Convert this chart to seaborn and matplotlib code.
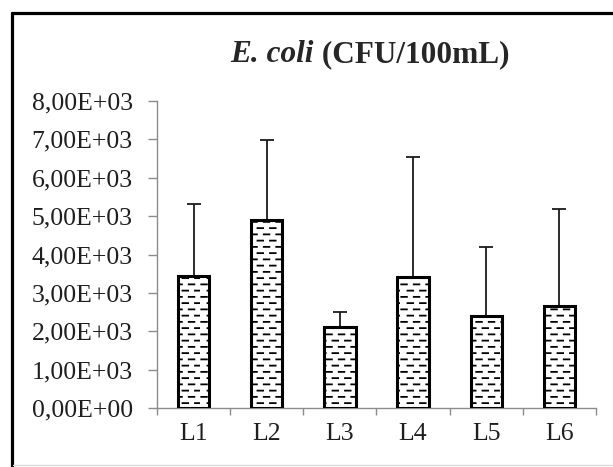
"""E. coli counts (CFU/100mL) per sampling site, Excel-style bar chart."""

import warnings

import matplotlib
matplotlib.use("Agg")
import matplotlib.pyplot as plt
import numpy as np
import pandas as pd
import seaborn as sns
from matplotlib import hatch as mhatch
from matplotlib.lines import Line2D
from matplotlib.offsetbox import AnchoredOffsetbox, HPacker, TextArea
from matplotlib.path import Path
from matplotlib.ticker import FixedLocator, FuncFormatter

warnings.filterwarnings("ignore")

# Data
SITES = ["L1", "L2", "L3", "L4", "L5", "L6"]
MEAN_CFU = [3450, 4900, 2100, 3410, 2400, 2660]
SD_CFU = [1860, 2080, 410, 3120, 1790, 2520]
Y_TICKS = [0, 1000, 2000, 3000, 4000, 5000, 6000, 7000, 8000]

SERIF = "Liberation Serif"
GREY = "#8c8c8c"


class DashHatch(mhatch.HatchPatternBase):
    """Staggered short horizontal dashes ('_' hatch), like Excel's dashed fill."""

    def __init__(self, hatch, density):
        n = hatch.count("_")
        self.num_rows = 16 * n
        self.num_cols = 8
        self.num_vertices = self.num_rows * self.num_cols * 2

    def set_vertices_and_codes(self, vertices, codes):
        k = 0
        dash = 0.45 / self.num_cols
        for i in range(self.num_rows):
            y = (i + 0.5) / self.num_rows
            off = 0.5 if i % 2 else 0.0
            for j in range(self.num_cols):
                x0 = (j + off + 0.1) / self.num_cols
                vertices[k] = (x0, y)
                vertices[k + 1] = (x0 + dash, y)
                codes[k] = Path.MOVETO
                codes[k + 1] = Path.LINETO
                k += 2


mhatch._hatch_types.append(DashHatch)

sns.set_theme(style="white")
plt.rcParams["font.family"] = [SERIF, "DejaVu Serif"]
plt.rcParams["hatch.linewidth"] = 1.3

df = pd.DataFrame({"site": SITES, "cfu": MEAN_CFU})

fig = plt.figure(figsize=(6.13, 4.67), dpi=100)
ax = fig.add_axes([157 / 613, 59 / 467, 439 / 613, 307 / 467])

sns.barplot(
    data=df, x="site", y="cfu", color="white", saturation=1,
    edgecolor="black", linewidth=2.2, width=0.43, errorbar=None, ax=ax,
)
for bar in ax.patches:
    bar.set_hatch("_")
    bar.set_zorder(3)

ax.errorbar(
    np.arange(len(SITES)), MEAN_CFU, yerr=[np.zeros(len(SITES)), SD_CFU],
    fmt="none", ecolor="#1a1a1a", elinewidth=1.3, capsize=5, capthick=1.3,
    zorder=2,
)

ax.set_xlim(-0.5, len(SITES) - 0.5)
ax.set_ylim(0, 8000)
ax.yaxis.set_major_locator(FixedLocator(Y_TICKS))
ax.yaxis.set_major_formatter(
    FuncFormatter(lambda v, _: f"{v:.2E}".replace(".", ","))
)
ax.set_xlabel("")
ax.set_ylabel("")

for side in ("top", "right"):
    ax.spines[side].set_visible(False)
for side in ("left", "bottom"):
    ax.spines[side].set_color(GREY)
    ax.spines[side].set_linewidth(1.0)

ax.tick_params(axis="y", which="major", left=True, length=6.5, width=1,
               color=GREY, pad=11, labelsize=18.5, labelcolor="#1e1e1e")
ax.tick_params(axis="x", which="major", bottom=False, length=0, pad=11,
               labelsize=18.5, labelcolor="#1e1e1e")
ax.xaxis.set_minor_locator(FixedLocator(np.arange(len(SITES) + 1) - 0.5))
ax.tick_params(axis="x", which="minor", bottom=True, length=5, width=1,
               color=GREY, direction="out")

# Title: italic species name + bold units
title = HPacker(
    children=[
        TextArea("E. coli", textprops=dict(family=SERIF, style="italic",
                                           weight="bold", size=22.5)),
        TextArea(" (CFU/100mL)", textprops=dict(family=SERIF, weight="bold",
                                                size=22.5)),
    ],
    align="baseline", pad=0, sep=0,
)
fig.add_artist(AnchoredOffsetbox(
    loc="center", child=title, pad=0, borderpad=0, frameon=False,
    bbox_to_anchor=(370 / 613, 1 - 55 / 467), bbox_transform=fig.transFigure,
))

# Outer chart-area frame (left and top visible, others off-canvas)
fig.add_artist(Line2D([11.5 / 613, 11.5 / 613], [0, 1 - 13 / 467],
                      transform=fig.transFigure, color="black", lw=2.3))
fig.add_artist(Line2D([11.5 / 613, 1], [1 - 13 / 467, 1 - 13 / 467],
                      transform=fig.transFigure, color="black", lw=2.3))
fig.add_artist(Line2D([13 / 613, 1], [2.5 / 467, 2.5 / 467],
                      transform=fig.transFigure, color="#d8d8d8", lw=1))

fig.savefig("out.png", dpi=100)
